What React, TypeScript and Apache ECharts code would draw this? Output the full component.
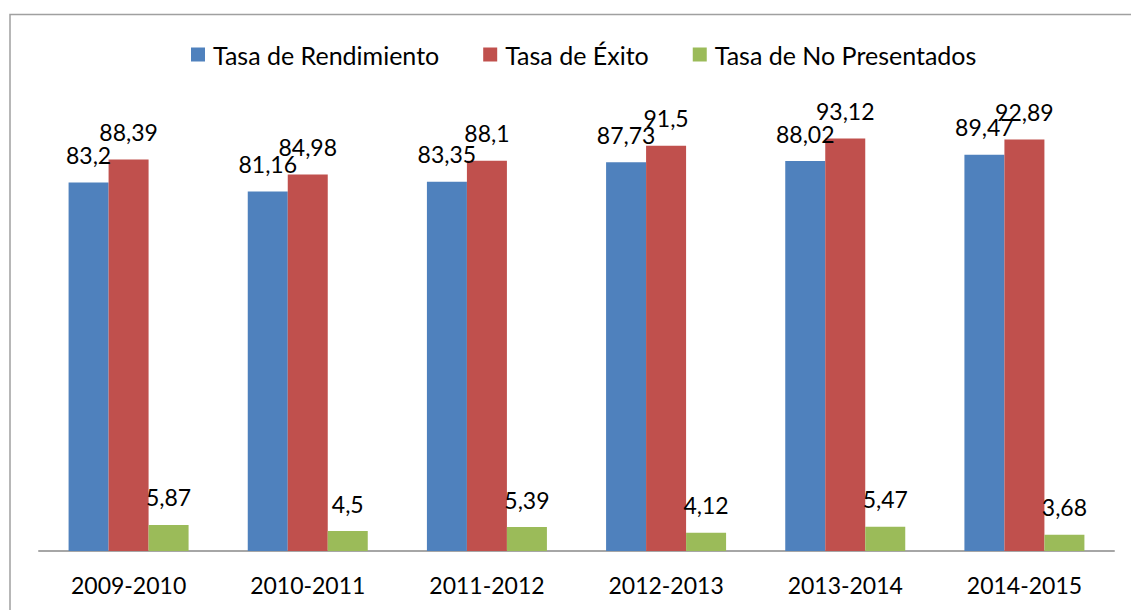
import React, { useEffect, useRef } from "react";
import * as echarts from "echarts";

const categories = ["2009-2010", "2010-2011", "2011-2012", "2012-2013", "2013-2014", "2014-2015"];
const seriesNames = ["Tasa de Rendimiento", "Tasa de Éxito", "Tasa de No Presentados"];
const rendimiento = [83.2, 81.16, 83.35, 87.73, 88.02, 89.47];
const exito = [88.39, 84.98, 88.1, 91.5, 93.12, 92.89];
const noPresentados = [5.87, 4.5, 5.39, 4.12, 5.47, 3.68];
const colors = ["#4F81BD", "#C0504D", "#9BBB59"];

const FONT = "Lato, 'Open Sans', sans-serif";

export default function App() {
  const ref = useRef<HTMLDivElement>(null);
  useEffect(() => {
    if (!ref.current) return;
    const chart = echarts.init(ref.current, undefined, { renderer: "svg" });
    const fmt = (p: any) => String(p.value).replace(".", ",");
    const mk = (name: string, data: number[], color: string) => ({
      name,
      type: "bar",
      data,
      barWidth: 40,
      barGap: "0%",
      itemStyle: { color },
      label: {
        show: true,
        position: "top",
        distance: 16,
        formatter: fmt,
        color: "#000",
        fontFamily: FONT,
        fontSize: 23,
      },
    });
    chart.setOption({
      animation: false,
      backgroundColor: "#fff",
      color: colors,
      legend: {
        left: 186,
        top: 37,
        itemWidth: 14,
        itemHeight: 14,
        itemGap: 44,
        icon: "rect",
        textStyle: { fontFamily: FONT, fontSize: 25, color: "#000", padding: [0, 0, 0, 3] },
        data: seriesNames,
      },
      grid: { left: 39, right: 17, top: 108, bottom: 59, containLabel: false },
      xAxis: {
        type: "category",
        data: categories,
        axisLine: { show: true, lineStyle: { color: "#a6a6a6", width: 2 } },
        axisTick: { show: false },
        axisLabel: { margin: 22, color: "#000", fontFamily: FONT, fontSize: 23 },
      },
      yAxis: {
        type: "value",
        min: 0,
        max: 100,
        show: false,
        splitLine: { show: false },
      },
      graphic: [
        {
          type: "rect",
          shape: { x: 10, y: 14.5, width: 1400, height: 800 },
          style: { fill: "none", stroke: "#a0a0a0", lineWidth: 1.5 },
          silent: true,
        },
      ],
      series: [
        mk(seriesNames[0], rendimiento, colors[0]),
        mk(seriesNames[1], exito, colors[1]),
        mk(seriesNames[2], noPresentados, colors[2]),
      ],
    });
    return () => chart.dispose();
  }, []);
  return (
    <div
      ref={ref}
      style={{ position: "fixed", left: 0, top: 0, width: 1131, height: 610 }}
    />
  );
}
